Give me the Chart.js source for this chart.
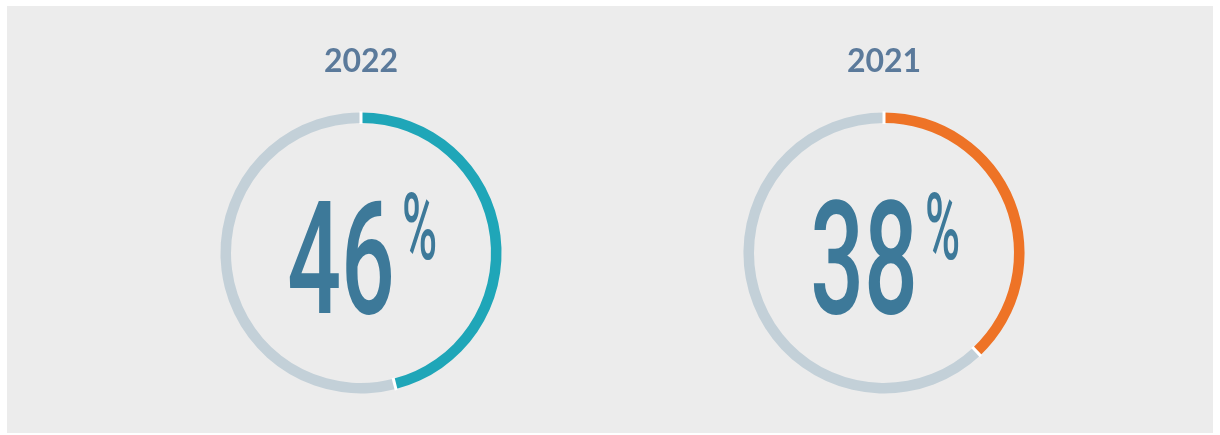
<!DOCTYPE html>
<html>
<head>
<meta charset="utf-8">
<script src="https://cdn.jsdelivr.net/npm/chart.js@4.4.0/dist/chart.umd.min.js"></script>
<style>
  html, body { margin: 0; padding: 0; background: #fff; }
  #panel { position: absolute; left: 7px; top: 6px; width: 1206px; height: 427px; background: #ececec; }
  canvas { position: absolute; top: 0; }
</style>
</head>
<body>
<div id="panel"></div>
<canvas id="c2022" width="400" height="435" style="left:160.5px"></canvas>
<canvas id="c2021" width="400" height="435" style="left:683.5px"></canvas>
<script>
const years = ['2022', '2021'];
const shares = [46, 38];
const accents = ['#1fa6b8', '#ee7326'];
const restColor = '#c3d0d8';

// white cuts between the ring segments
const cuts = {
  id: 'cuts',
  afterDatasetsDraw(chart) {
    const c = chart.ctx;
    c.save();
    c.strokeStyle = '#ffffff';
    c.lineWidth = 3;
    chart.getDatasetMeta(0).data.forEach(arc => {
      const a = arc.startAngle;
      c.beginPath();
      c.moveTo(arc.x + Math.cos(a) * (arc.innerRadius - 1), arc.y + Math.sin(a) * (arc.innerRadius - 1));
      c.lineTo(arc.x + Math.cos(a) * (arc.outerRadius + 1), arc.y + Math.sin(a) * (arc.outerRadius + 1));
      c.stroke();
    });
    c.restore();
  }
};

// big condensed percentage in the middle
const centre = {
  id: 'centre',
  afterDraw(chart) {
    const c = chart.ctx;
    const arc = chart.getDatasetMeta(0).data[0];
    const value = chart.data.datasets[0].data[0];
    c.save();
    c.fillStyle = '#3d7999';
    c.translate(arc.x, arc.y);
    c.save();
    c.scale(0.6, 1);
    c.font = '500 158px Roboto';
    c.textAlign = 'right';
    c.textBaseline = 'alphabetic';
    c.fillText(String(value), 34 / 0.6, 60);
    c.restore();
    c.scale(0.52, 1);
    c.font = '500 92px Roboto';
    c.textAlign = 'left';
    c.fillText('%', 41 / 0.52, 6);
    c.restore();
  }
};

years.forEach((year, i) => {
  new Chart(document.getElementById('c' + year), {
    type: 'doughnut',
    data: {
      labels: ['share', 'rest'],
      datasets: [{
        data: [shares[i], 100 - shares[i]],
        backgroundColor: [accents[i], restColor],
        borderWidth: 0,
        hoverBorderWidth: 0,
        hoverOffset: 0
      }]
    },
    options: {
      responsive: false,
      animation: false,
      cutout: '92.5%',
      layout: { padding: { bottom: 41.5 } },
      plugins: {
        legend: { display: false },
        tooltip: { enabled: false },
        title: {
          display: true,
          text: year,
          color: '#5b7a9b',
          font: { family: 'Lato', size: 32, weight: 'bold' },
          padding: { top: 42, bottom: 32 }
        }
      }
    },
    plugins: [cuts, centre]
  });
});
</script>
</body>
</html>
